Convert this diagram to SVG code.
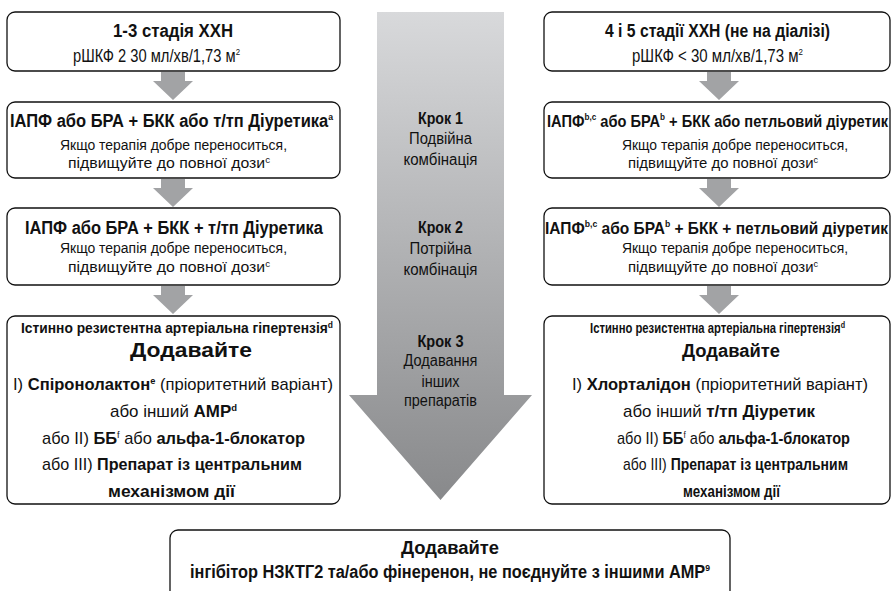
<svg xmlns="http://www.w3.org/2000/svg" width="892" height="591" viewBox="0 0 892 591">
<style>
text{font-family:"Liberation Sans Narrow","Liberation Sans",Arial,sans-serif;fill:#111;}
.b{font-weight:bold;}
.t17{font-size:18px;}
.t17r{font-size:17px;}
.t19{font-size:20.5px;}
.t16{font-size:17px;}
.t15{font-size:16px;}
.t14{font-size:15.5px;}
.t14r{font-size:15px;}
.sup{font-size:9.5px;}
.box{fill:#fff;stroke:#111;stroke-width:1.3;}
.arr{fill:#a2a3a5;}
</style>
<defs>
<linearGradient id="g" x1="0" y1="12" x2="0" y2="500" gradientUnits="userSpaceOnUse">
<stop offset="0" stop-color="#d8d9db"/>
<stop offset="1" stop-color="#88898b"/>
</linearGradient>
</defs>
<g id="connectors">
<path id="steparrow" d="M377,12 H504 V395 H532 L440.5,500 L349,395 H377 Z" fill="url(#g)"/>
<path class="arr" d="M161,72 h24 v9 h8 l-20,19 l-20,-19 h8 z"/>
<path class="arr" d="M161,179 h24 v9 h8 l-20,19 l-20,-19 h8 z"/>
<path class="arr" d="M161,286 h24 v9 h8 l-20,19 l-20,-19 h8 z"/>
<path class="arr" d="M707,72 h24 v9 h8 l-20,19 l-20,-19 h8 z"/>
<path class="arr" d="M707,179 h24 v9 h8 l-20,19 l-20,-19 h8 z"/>
<path class="arr" d="M707,286 h24 v9 h8 l-20,19 l-20,-19 h8 z"/>
</g>
<g id="steps">
<text class="b t15" x="440.5" y="124" text-anchor="middle" textLength="45" lengthAdjust="spacingAndGlyphs">Крок 1</text>
<text class="t15" x="440.5" y="144" text-anchor="middle" textLength="63" lengthAdjust="spacingAndGlyphs">Подвійна</text>
<text class="t15" x="440.5" y="165" text-anchor="middle" textLength="74" lengthAdjust="spacingAndGlyphs">комбінація</text>
<text class="b t15" x="440.5" y="233" text-anchor="middle" textLength="45" lengthAdjust="spacingAndGlyphs">Крок 2</text>
<text class="t15" x="440.5" y="254" text-anchor="middle" textLength="62" lengthAdjust="spacingAndGlyphs">Потрійна</text>
<text class="t15" x="440.5" y="275" text-anchor="middle" textLength="74" lengthAdjust="spacingAndGlyphs">комбінація</text>
<text class="b t15" x="440.5" y="347" text-anchor="middle" textLength="46" lengthAdjust="spacingAndGlyphs">Крок 3</text>
<text class="t15" x="440.5" y="366" text-anchor="middle" textLength="74" lengthAdjust="spacingAndGlyphs">Додавання</text>
<text class="t15" x="440.5" y="387" text-anchor="middle" textLength="38" lengthAdjust="spacingAndGlyphs">інших</text>
<text class="t15" x="440.5" y="406" text-anchor="middle" textLength="73" lengthAdjust="spacingAndGlyphs">препаратів</text>
</g>
<g id="L1">
<rect class="box" x="7" y="12" width="333" height="59" rx="8"/>
<text class="b t17" x="113" y="37" textLength="120" lengthAdjust="spacingAndGlyphs">1-3 стадія ХХН</text>
<text class="t17" x="73" y="62" textLength="167" lengthAdjust="spacingAndGlyphs">рШКФ 2 30 мл/хв/1,73 м<tspan class="sup" dy="-7">2</tspan></text>
</g>
<g id="L2">
<rect class="box" x="7" y="102" width="333" height="76" rx="8"/>
<text class="b t17" x="10" y="127" textLength="323" lengthAdjust="spacingAndGlyphs">ІАПФ або БРА + БКК або т/тп Діуретика<tspan class="sup" dy="-7">a</tspan></text>
<text class="t14" x="60" y="150" textLength="227" lengthAdjust="spacingAndGlyphs">Якщо терапія добре переноситься,</text>
<text class="t14" x="68" y="168" textLength="202" lengthAdjust="spacingAndGlyphs">підвищуйте до повної дози<tspan class="sup" dy="-5">c</tspan></text>
</g>
<g id="L3">
<rect class="box" x="7" y="208" width="333" height="77" rx="8"/>
<text class="b t17" x="25" y="234" textLength="298" lengthAdjust="spacingAndGlyphs">ІАПФ або БРА + БКК + т/тп Діуретика</text>
<text class="t14" x="60" y="253" textLength="227" lengthAdjust="spacingAndGlyphs">Якщо терапія добре переноситься,</text>
<text class="t14" x="68" y="272" textLength="202" lengthAdjust="spacingAndGlyphs">підвищуйте до повної дози<tspan class="sup" dy="-5">c</tspan></text>
</g>
<g id="L4">
<rect class="box" x="7" y="316" width="333" height="188" rx="8"/>
<text class="b t14" x="21" y="333" textLength="312" lengthAdjust="spacingAndGlyphs">Істинно резистентна артеріальна гіпертензія<tspan class="sup" dy="-5">d</tspan></text>
<text class="b t19" x="130" y="357" textLength="122" lengthAdjust="spacingAndGlyphs">Додавайте</text>
<text class="t16" x="13" y="390" textLength="320" lengthAdjust="spacingAndGlyphs">I) <tspan class="b">Спіронолактон</tspan><tspan class="sup b" dy="-6">e</tspan><tspan dy="6">  (пріоритетний варіант)</tspan></text>
<text class="t16" x="110" y="417" textLength="127" lengthAdjust="spacingAndGlyphs">або інший <tspan class="b">АМР</tspan><tspan class="sup b" dy="-6">d</tspan></text>
<text class="t16" x="42" y="444" textLength="263" lengthAdjust="spacingAndGlyphs">або II) <tspan class="b">ББ</tspan><tspan class="sup" dy="-6">f</tspan><tspan dy="6"> або </tspan><tspan class="b">альфа-1-блокатор</tspan></text>
<text class="t16" x="42" y="470" textLength="260" lengthAdjust="spacingAndGlyphs">або III) <tspan class="b">Препарат із центральним</tspan></text>
<text class="b t16" x="108" y="497" textLength="127" lengthAdjust="spacingAndGlyphs">механізмом дії</text>
</g>
<g id="R1">
<rect class="box" x="544" y="12" width="346" height="59" rx="8"/>
<text class="b t17" x="605" y="37" textLength="225" lengthAdjust="spacingAndGlyphs">4 і 5 стадії ХХН (не на діалізі)</text>
<text class="t17" x="632" y="62" textLength="171" lengthAdjust="spacingAndGlyphs">рШКФ &lt; 30 мл/хв/1,73 м<tspan class="sup" dy="-7">2</tspan></text>
</g>
<g id="R2">
<rect class="box" x="544" y="102" width="346" height="76" rx="8"/>
<text class="b t17r" x="547" y="127" textLength="341" lengthAdjust="spacingAndGlyphs">ІАПФ<tspan class="sup" dy="-7">b,c</tspan><tspan dy="7"> або БРА</tspan><tspan class="sup" dy="-7">b</tspan><tspan dy="7"> + БКК або петльовий діуретик</tspan></text>
<text class="t14" x="622" y="150" textLength="226" lengthAdjust="spacingAndGlyphs">Якщо терапія добре переноситься,</text>
<text class="t14" x="628" y="168" textLength="190" lengthAdjust="spacingAndGlyphs">підвищуйте до повної дози<tspan class="sup" dy="-5">c</tspan></text>
</g>
<g id="R3">
<rect class="box" x="544" y="208" width="346" height="77" rx="8"/>
<text class="b t17r" x="545" y="234" textLength="343" lengthAdjust="spacingAndGlyphs">ІАПФ<tspan class="sup" dy="-7">b,c</tspan><tspan dy="7"> або БРА</tspan><tspan class="sup" dy="-7">b</tspan><tspan dy="7"> + БКК + петльовий діуретик</tspan></text>
<text class="t14" x="622" y="253" textLength="226" lengthAdjust="spacingAndGlyphs">Якщо терапія добре переноситься,</text>
<text class="t14" x="628" y="272" textLength="190" lengthAdjust="spacingAndGlyphs">підвищуйте до повної дози<tspan class="sup" dy="-5">c</tspan></text>
</g>
<g id="R4">
<rect class="box" x="544" y="316" width="346" height="188" rx="8"/>
<text class="b t14r" x="590" y="333" textLength="255" lengthAdjust="spacingAndGlyphs">Істинно резистентна артеріальна гіпертензія<tspan class="sup" dy="-5">d</tspan></text>
<text class="b t17" x="682" y="357" textLength="98" lengthAdjust="spacingAndGlyphs">Додавайте</text>
<text class="t16" x="572" y="390" textLength="296" lengthAdjust="spacingAndGlyphs">I) <tspan class="b">Хлорталідон</tspan> (пріоритетний варіант)</text>
<text class="t16" x="623" y="417" textLength="192" lengthAdjust="spacingAndGlyphs">або інший <tspan class="b">т/тп Діуретик</tspan></text>
<text class="t16" x="617" y="444" textLength="233" lengthAdjust="spacingAndGlyphs">або II) <tspan class="b">ББ</tspan><tspan class="sup" dy="-6">f</tspan><tspan dy="6"> або </tspan><tspan class="b">альфа-1-блокатор</tspan></text>
<text class="t16" x="623" y="470" textLength="225" lengthAdjust="spacingAndGlyphs">або III) <tspan class="b">Препарат із центральним</tspan></text>
<text class="b t16" x="683" y="497" textLength="97" lengthAdjust="spacingAndGlyphs">механізмом дії</text>
</g>
<g id="B">
<rect class="box" x="170" y="530" width="560" height="75" rx="8"/>
<text class="b t17" x="450" y="554" text-anchor="middle" textLength="98" lengthAdjust="spacingAndGlyphs">Додавайте</text>
<text class="b t17" x="190" y="578" textLength="520" lengthAdjust="spacingAndGlyphs">інгібітор НЗКТГ2 та/або фінеренон, не поєднуйте з іншими АМР<tspan class="sup" dy="-7">9</tspan></text>
</g>
</svg>
